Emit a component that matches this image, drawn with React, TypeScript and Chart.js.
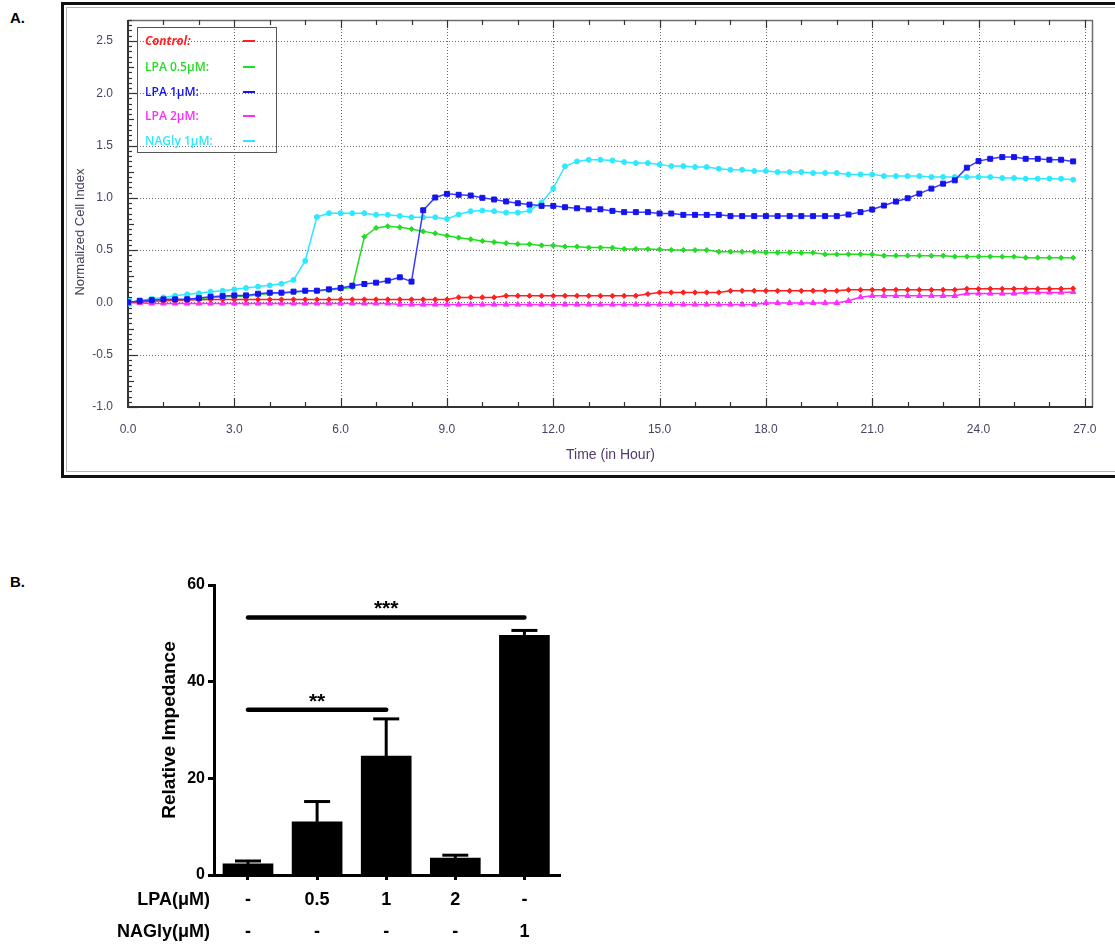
import React, { useEffect, useRef } from 'react';
import { Chart, registerables } from 'chart.js';

Chart.register(...registerables);

// ---------------- Panel A data ----------------
const HOURS = [
  0, 0.33, 0.67, 1, 1.33, 1.67, 2, 2.33, 2.67, 3, 3.33, 3.67, 4, 4.33, 4.67, 5, 5.33, 5.67, 6, 6.33,
  6.67, 7, 7.33, 7.67, 8, 8.33, 8.67, 9, 9.33, 9.67, 10, 10.33, 10.67, 11, 11.33, 11.67, 12, 12.33, 12.67, 13,
  13.33, 13.67, 14, 14.33, 14.67, 15, 15.33, 15.67, 16, 16.33, 16.67, 17, 17.33, 17.67, 18, 18.33, 18.67, 19, 19.33, 19.67,
  20, 20.33, 20.67, 21, 21.33, 21.67, 22, 22.33, 22.67, 23, 23.33, 23.67, 24, 24.33, 24.67, 25, 25.33, 25.67, 26, 26.33,
  26.67,
];

const CONTROL = [
  0, 0.005, 0.01, 0.015, 0.02, 0.022, 0.025, 0.028, 0.028, 0.028,
  0.028, 0.028, 0.028, 0.028, 0.028, 0.028, 0.028, 0.028, 0.028, 0.028,
  0.028, 0.028, 0.028, 0.028, 0.028, 0.028, 0.028, 0.028, 0.048, 0.048,
  0.048, 0.048, 0.063, 0.063, 0.063, 0.063, 0.063, 0.063, 0.063, 0.063,
  0.063, 0.063, 0.063, 0.063, 0.08, 0.095, 0.095, 0.095, 0.095, 0.095,
  0.095, 0.111, 0.111, 0.111, 0.111, 0.111, 0.111, 0.111, 0.111, 0.111,
  0.111, 0.12, 0.12, 0.12, 0.12, 0.12, 0.12, 0.12, 0.12, 0.12,
  0.12, 0.13, 0.13, 0.13, 0.13, 0.13, 0.13, 0.13, 0.13, 0.13,
  0.133,
];

const LPA_05 = [
  0, 0.012, 0.018, 0.024, 0.026, 0.028, 0.036, 0.046, 0.052, 0.058,
  0.06, 0.074, 0.084, 0.088, 0.097, 0.106, 0.108, 0.118, 0.128, 0.145,
  0.628, 0.712, 0.728, 0.718, 0.702, 0.679, 0.66, 0.638, 0.619, 0.603,
  0.587, 0.577, 0.566, 0.558, 0.556, 0.545, 0.544, 0.534, 0.533, 0.524,
  0.524, 0.523, 0.511, 0.511, 0.51, 0.507, 0.501, 0.501, 0.5, 0.5,
  0.485, 0.485, 0.485, 0.484, 0.476, 0.476, 0.476, 0.475, 0.475, 0.46,
  0.46, 0.46, 0.46, 0.459, 0.447, 0.447, 0.447, 0.447, 0.446, 0.446,
  0.438, 0.438, 0.438, 0.438, 0.437, 0.437, 0.428, 0.428, 0.428, 0.427,
  0.427,
];

const LPA_1 = [
  0, 0.016, 0.022, 0.029, 0.029, 0.03, 0.042, 0.054, 0.061, 0.067,
  0.067, 0.083, 0.093, 0.093, 0.103, 0.112, 0.112, 0.125, 0.138, 0.16,
  0.176, 0.189, 0.208, 0.24, 0.199, 0.881, 1.003, 1.038, 1.029, 1.022,
  1.0, 0.984, 0.965, 0.948, 0.935, 0.923, 0.923, 0.91, 0.9, 0.89,
  0.89, 0.875, 0.863, 0.863, 0.863, 0.85, 0.85, 0.837, 0.837, 0.837,
  0.837, 0.825, 0.825, 0.825, 0.825, 0.825, 0.825, 0.825, 0.825, 0.825,
  0.825, 0.84, 0.863, 0.888, 0.926, 0.964, 0.996, 1.04, 1.088, 1.135,
  1.167, 1.288, 1.351, 1.373, 1.389, 1.389, 1.373, 1.373, 1.364, 1.364,
  1.348,
];

const LPA_2 = [
  0, -0.005, -0.01, -0.01, -0.01, -0.01, -0.01, -0.01, -0.01, -0.01,
  -0.01, -0.01, -0.01, -0.01, -0.01, -0.01, -0.01, -0.01, -0.01, -0.01,
  -0.01, -0.01, -0.01, -0.02, -0.02, -0.02, -0.02, -0.02, -0.02, -0.02,
  -0.02, -0.02, -0.02, -0.02, -0.02, -0.02, -0.02, -0.02, -0.02, -0.02,
  -0.02, -0.02, -0.02, -0.02, -0.02, -0.02, -0.02, -0.02, -0.02, -0.02,
  -0.02, -0.02, -0.02, -0.02, -0.005, -0.005, -0.005, -0.005, -0.005, -0.005,
  -0.005, 0.015, 0.05, 0.063, 0.063, 0.063, 0.063, 0.063, 0.063, 0.063,
  0.063, 0.085, 0.085, 0.085, 0.085, 0.085, 0.095, 0.095, 0.095, 0.095,
  0.1,
];

const NAGLY_1 = [
  0, 0.016, 0.035, 0.048, 0.064, 0.077, 0.087, 0.103, 0.112, 0.125,
  0.138, 0.151, 0.163, 0.179, 0.215, 0.397, 0.817, 0.853, 0.853, 0.853,
  0.853, 0.837, 0.837, 0.827, 0.814, 0.814, 0.814, 0.798, 0.84, 0.872,
  0.878, 0.872, 0.858, 0.858, 0.877, 0.956, 1.09, 1.302, 1.348, 1.363,
  1.363, 1.357, 1.342, 1.332, 1.332, 1.319, 1.303, 1.303, 1.294, 1.294,
  1.278, 1.268, 1.268, 1.256, 1.256, 1.246, 1.246, 1.246, 1.237, 1.237,
  1.237, 1.224, 1.224, 1.224, 1.208, 1.208, 1.208, 1.208, 1.199, 1.199,
  1.199, 1.199, 1.199, 1.199, 1.189, 1.189, 1.183, 1.183, 1.183, 1.183,
  1.173,
];

const SERIES_LABELS = ['Control:', 'LPA 0.5\u03bcM:', 'LPA 1\u03bcM:', 'LPA 2\u03bcM:', 'NAGly 1\u03bcM:'];
const SERIES_DATA = [CONTROL, LPA_05, LPA_1, LPA_2, NAGLY_1];
const SERIES_COLORS = ['#ff1f1f', '#22dd22', '#1414ee', '#ff2cff', '#2ee8ff'];
const SERIES_POINT = ['rectRot', 'rectRot', 'rect', 'triangle', 'circle'];
const SERIES_RADIUS = [2.6, 2.6, 3.5, 3.2, 2.5];
const SERIES_ORDER = [1, 2, 0, 4, 3];

const X_TICKS_A = [0, 3, 6, 9, 12, 15, 18, 21, 24, 27];
const Y_TICKS_A = [-1, -0.5, 0, 0.5, 1, 1.5, 2, 2.5];

// ---------------- Panel B data ----------------
const LPA_ROW = ['-', '0.5', '1', '2', '-'];
const NAGLY_ROW = ['-', '-', '-', '-', '1'];
const IMPEDANCE = [2.3, 11.0, 24.6, 3.5, 49.6];
const IMPEDANCE_SEM = [0.6, 4.2, 7.7, 0.6, 1.0];
const Y_TICKS_B = [0, 20, 40, 60];
const SIG_FROM = [0, 0];
const SIG_TO = [2, 4];
const SIG_LEVEL = [34.2, 53.3];
const SIG_TEXT = ['**', '***'];

const AX_COLOR = '#4a3f63';
const FONT = '"Liberation Sans", Arial, sans-serif';

function line(ctx: CanvasRenderingContext2D, x1: number, y1: number, x2: number, y2: number) {
  ctx.beginPath();
  ctx.moveTo(x1, y1);
  ctx.lineTo(x2, y2);
  ctx.stroke();
}

const frameA = {
  id: 'frameA',
  beforeDatasetsDraw(chart: any) {
    const { ctx, chartArea: a, scales } = chart;
    const x = scales.x;
    const y = scales.y;
    ctx.save();
    // dotted grid
    ctx.strokeStyle = '#6a6a6a';
    ctx.lineWidth = 1;
    ctx.setLineDash([1, 2]);
    X_TICKS_A.forEach((v) => {
      if (v <= 0) return;
      const px = Math.round(x.getPixelForValue(v)) + 0.5;
      line(ctx, px, a.top, px, a.bottom);
    });
    Y_TICKS_A.forEach((v) => {
      if (v <= -1) return;
      const py = Math.round(y.getPixelForValue(v)) + 0.5;
      line(ctx, a.left, py, a.right, py);
    });
    ctx.setLineDash([]);
    // frame
    ctx.strokeStyle = '#6d6d6d';
    ctx.lineWidth = 1.5;
    line(ctx, a.left, a.top + 0.5, a.right, a.top + 0.5);
    line(ctx, a.right - 0.5, a.top, a.right - 0.5, a.bottom);
    ctx.strokeStyle = '#333';
    ctx.lineWidth = 2;
    line(ctx, a.left, a.top, a.left, a.bottom + 1);
    line(ctx, a.left - 1, a.bottom, a.right, a.bottom);
    // y ticks (every 0.05)
    ctx.lineWidth = 1.2;
    for (let k = 0; k <= 74; k++) {
      const v = -1 + k * 0.05;
      const py = Math.round(y.getPixelForValue(v)) + 0.5;
      const len = k % 10 === 0 ? 10 : k % 5 === 0 ? 6 : 4;
      line(ctx, a.left, py, a.left + len, py);
    }
    // x ticks (every hour)
    for (let h = 0; h <= 27; h++) {
      const px = Math.round(x.getPixelForValue(h)) + 0.5;
      const major = h % 3 === 0;
      line(ctx, px, a.bottom, px, a.bottom - (major ? 9 : 5));
      line(ctx, px, a.top, px, a.top + (major ? 8 : 5));
    }
    ctx.restore();
  },
  afterDraw(chart: any) {
    const { ctx } = chart;
    ctx.save();
    ctx.translate(80, 232);
    ctx.rotate(-Math.PI / 2);
    ctx.fillStyle = '#4a4058';
    ctx.font = '13px ' + FONT;
    ctx.textAlign = 'center';
    ctx.textBaseline = 'middle';
    ctx.fillText('Normalized Cell Index', 0, 0);
    ctx.restore();
  },
};

const extrasB = {
  id: 'extrasB',
  afterDatasetsDraw(chart: any) {
    const { ctx, scales } = chart;
    const x = scales.x;
    const y = scales.y;
    ctx.save();
    ctx.strokeStyle = '#000';
    ctx.fillStyle = '#000';
    // error bars (upper only)
    ctx.lineWidth = 3;
    IMPEDANCE.forEach((m, i) => {
      const px = x.getPixelForValue(i);
      const top = y.getPixelForValue(m);
      const e = y.getPixelForValue(m + IMPEDANCE_SEM[i]);
      line(ctx, px, top, px, e);
      line(ctx, px - 13, e, px + 13, e);
    });
    // significance bars
    ctx.lineWidth = 4.5;
    ctx.lineCap = 'round';
    ctx.font = 'bold 21px ' + FONT;
    ctx.textAlign = 'center';
    ctx.textBaseline = 'alphabetic';
    SIG_LEVEL.forEach((lv, k) => {
      const x1 = x.getPixelForValue(SIG_FROM[k]);
      const x2 = x.getPixelForValue(SIG_TO[k]);
      const py = y.getPixelForValue(lv);
      line(ctx, x1, py, x2, py);
      ctx.fillText(SIG_TEXT[k], (x1 + x2) / 2, py - 2);
    });
    // row labels
    ctx.font = 'bold 18px ' + FONT;
    ctx.textAlign = 'right';
    ctx.textBaseline = 'middle';
    const r1 = x.top + 25;
    ctx.fillText('LPA(\u03bcM)', 110, r1);
    ctx.fillText('NAGly(\u03bcM)', 110, r1 + 32);
    ctx.restore();
  },
};

function ChartA() {
  const ref = useRef<HTMLCanvasElement>(null);
  useEffect(() => {
    if (!ref.current) return;
    const datasets = SERIES_DATA.map((d, s) => {
      const first = s === 4;
      return {
        label: SERIES_LABELS[s],
        data: HOURS.map((t, i) => ({ x: t, y: d[i] })),
        borderColor: s === 2 ? '#3a3aff' : SERIES_COLORS[s],
        backgroundColor: SERIES_COLORS[s],
        pointBackgroundColor: HOURS.map((_, i) => (first && i === 0 ? '#ffffff' : SERIES_COLORS[s])),
        pointBorderColor: SERIES_COLORS[s],
        pointStyle: HOURS.map((_, i) => (first && i === 0 ? 'rect' : SERIES_POINT[s])),
        pointRadius: HOURS.map((_, i) => (first && i === 0 ? 4.5 : SERIES_RADIUS[s])),
        pointBorderWidth: HOURS.map((_, i) => (first && i === 0 ? 2 : 1)),
        borderWidth: 1.5,
        tension: 0,
        order: SERIES_ORDER[s],
      };
    });
    const chart = new Chart(ref.current, {
      type: 'line',
      data: { datasets },
      plugins: [frameA],
      options: {
        animation: false,
        responsive: false,
        maintainAspectRatio: false,
        events: [],
        layout: { padding: { left: 0, top: 20, right: 22, bottom: 0 } },
        plugins: { legend: { display: false }, tooltip: { enabled: false } },
        scales: {
          x: {
            type: 'linear',
            min: 0,
            max: 27.23,
            afterBuildTicks: (s: any) => {
              s.ticks = X_TICKS_A.map((v) => ({ value: v }));
            },
            afterFit: (s: any) => {
              s.height = 73;
            },
            grid: { display: false },
            border: { display: false },
            ticks: {
              autoSkip: false,
              maxRotation: 0,
              padding: 7,
              color: AX_COLOR,
              font: { family: FONT, size: 12 },
              callback: (v: any) => Number(v).toFixed(1),
            },
            title: {
              display: true,
              text: 'Time (in Hour)',
              color: '#503a6e',
              font: { family: FONT, size: 14 },
              padding: { top: 0, bottom: 16 },
            },
          },
          y: {
            type: 'linear',
            min: -1,
            max: 2.7,
            afterBuildTicks: (s: any) => {
              s.ticks = Y_TICKS_A.map((v) => ({ value: v }));
            },
            afterFit: (s: any) => {
              s.width = 128;
            },
            grid: { display: false },
            border: { display: false },
            ticks: {
              autoSkip: false,
              padding: 7,
              color: AX_COLOR,
              font: { family: FONT, size: 12 },
              callback: (v: any) => Number(v).toFixed(1),
            },
          },
        },
      } as any,
    });
    return () => chart.destroy();
  }, []);
  return (
    <canvas
      ref={ref}
      width={1115}
      height={480}
      style={{ position: 'absolute', left: 0, top: 0, width: 1115, height: 480 }}
    />
  );
}

function ChartB() {
  const ref = useRef<HTMLCanvasElement>(null);
  useEffect(() => {
    if (!ref.current) return;
    const chart = new Chart(ref.current, {
      type: 'bar',
      data: {
        datasets: [
          {
            label: 'Relative Impedance',
            data: IMPEDANCE.map((v, i) => ({ x: i, y: v })),
            backgroundColor: '#000',
            borderWidth: 0,
            barThickness: 50,
          },
        ],
      },
      plugins: [extrasB],
      options: {
        animation: false,
        responsive: false,
        maintainAspectRatio: false,
        events: [],
        layout: { padding: { left: 0, top: 15, right: 20, bottom: 0 } },
        plugins: { legend: { display: false }, tooltip: { enabled: false } },
        scales: {
          x: {
            type: 'linear',
            min: -0.492,
            max: 4.515,
            offset: false,
            afterBuildTicks: (s: any) => {
              s.ticks = LPA_ROW.map((_, i) => ({ value: i }));
            },
            afterFit: (s: any) => {
              s.height = 70;
            },
            grid: {
              display: true,
              offset: false,
              drawOnChartArea: false,
              drawTicks: true,
              tickLength: 5,
              tickWidth: 3,
              tickColor: '#000',
            },
            border: { display: true, width: 3, color: '#000' },
            ticks: {
              autoSkip: false,
              maxRotation: 0,
              padding: 4,
              color: '#000',
              font: { family: FONT, size: 18, weight: 'bold', lineHeight: 32 / 18 },
              callback: (_v: any, i: number) => [LPA_ROW[i], NAGLY_ROW[i]],
            },
          },
          y: {
            type: 'linear',
            min: 0,
            max: 60,
            afterBuildTicks: (s: any) => {
              s.ticks = Y_TICKS_B.map((v) => ({ value: v }));
            },
            afterFit: (s: any) => {
              s.width = 114;
            },
            grid: {
              display: true,
              drawOnChartArea: false,
              drawTicks: true,
              tickLength: 6,
              tickWidth: 3,
              tickColor: '#000',
            },
            border: { display: true, width: 3, color: '#000' },
            ticks: {
              padding: 3,
              color: '#000',
              font: { family: FONT, size: 16, weight: 'bold' },
            },
            title: {
              display: true,
              text: 'Relative Impedance',
              color: '#000',
              font: { family: FONT, size: 19, weight: 'bold' },
              padding: { top: 58, bottom: 0 },
            },
          },
        },
      } as any,
    });
    return () => chart.destroy();
  }, []);
  return (
    <canvas
      ref={ref}
      width={480}
      height={375}
      style={{ position: 'absolute', left: 100, top: 570, width: 480, height: 375 }}
    />
  );
}

const LEGEND_ROW_Y = [41, 67, 92, 116, 141];

export default function App() {
  return (
    <div
      style={{
        position: 'absolute',
        left: 0,
        top: 0,
        width: 1115,
        height: 945,
        overflow: 'hidden',
        background: '#fff',
        fontFamily: FONT,
      }}
    >
      <div style={{ position: 'absolute', left: 10, top: 9, fontWeight: 'bold', fontSize: 15 }}>A.</div>
      <div style={{ position: 'absolute', left: 10, top: 573, fontWeight: 'bold', fontSize: 15 }}>B.</div>
      <div
        style={{
          position: 'absolute',
          left: 61,
          top: 2,
          width: 1070,
          height: 476,
          border: '3px solid #111',
          boxSizing: 'border-box',
        }}
      />
      <div
        style={{
          position: 'absolute',
          left: 66,
          top: 7,
          width: 1070,
          height: 465,
          border: '1.5px solid #b4b4b4',
          boxSizing: 'border-box',
        }}
      />
      <ChartA />
      <div
        style={{
          position: 'absolute',
          left: 137,
          top: 27,
          width: 140,
          height: 126,
          border: '1px solid #555',
          boxSizing: 'border-box',
        }}
      />
      {SERIES_LABELS.map((lab, i) => (
        <React.Fragment key={lab}>
          <div
            style={{
              position: 'absolute',
              left: 145,
              top: LEGEND_ROW_Y[i] - 9,
              height: 18,
              lineHeight: '18px',
              fontFamily: '"Open Sans", sans-serif',
              fontSize: 12,
              fontWeight: i === 0 ? 700 : 600,
              fontStyle: i === 0 ? 'italic' : 'normal',
              color: SERIES_COLORS[i],
              whiteSpace: 'nowrap',
            }}
          >
            {lab}
          </div>
          <div
            style={{
              position: 'absolute',
              left: 243,
              top: LEGEND_ROW_Y[i] - 1,
              width: 12,
              height: 2,
              background: SERIES_COLORS[i],
            }}
          />
        </React.Fragment>
      ))}
      <ChartB />
    </div>
  );
}
